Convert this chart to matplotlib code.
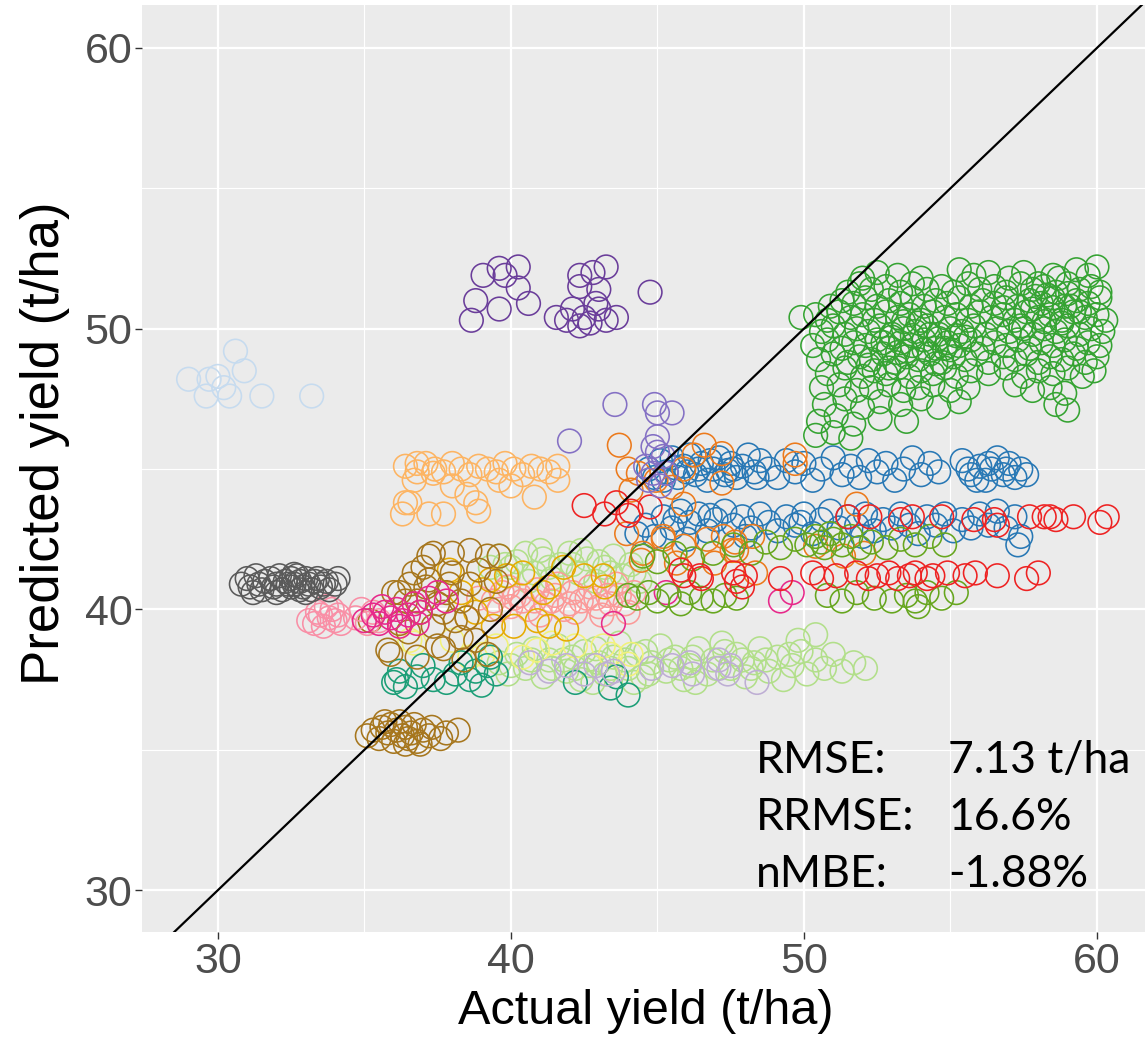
import matplotlib.pyplot as plt

# (actual, predicted) yield pairs per site group
lightblue_pts = [(29.0, 48.2), (29.7, 48.2), (30.6, 49.2), (30.9, 48.5), (30.4, 47.6), (29.6, 47.6),
                 (31.5, 47.6), (33.2, 47.6), (30.2, 47.9), (30.0, 48.3)]
gray_pts = [(30.8, 40.9), (31.0, 41.1), (31.1, 40.8), (31.3, 41.2), (31.4, 40.9), (31.5, 40.7), (31.6, 41.0),
            (31.8, 41.1), (31.9, 40.8), (32.0, 40.9), (32.1, 41.2), (32.2, 40.7), (32.3, 41.0), (32.4, 40.9),
            (32.5, 40.8), (32.5, 41.1), (32.6, 40.9), (32.7, 41.2), (32.8, 40.7), (32.8, 41.0), (32.9, 40.8),
            (33.0, 41.1), (33.1, 40.9), (33.2, 40.7), (33.3, 41.0), (33.4, 41.1), (33.5, 40.8), (33.6, 40.9),
            (33.7, 41.0), (33.8, 40.7), (34.0, 40.9), (34.1, 41.1), (31.2, 40.6), (32.0, 40.6), (32.6, 41.25),
            (33.0, 40.6)]
pink_pts = [(33.1, 39.6), (33.3, 39.5), (33.5, 39.8), (33.6, 39.4), (33.8, 39.7), (33.9, 40.0), (34.0, 39.6),
            (34.1, 39.8), (34.2, 39.5), (33.4, 39.9), (33.7, 40.1), (34.7, 39.7), (34.9, 40.0), (35.1, 39.5),
            (35.3, 39.9), (35.5, 39.6)]
magenta_pts = [(35.0, 39.6), (35.3, 39.8), (35.5, 39.5), (35.7, 39.9), (35.9, 39.7), (36.1, 40.0), (36.3, 39.6),
               (36.5, 39.8), (36.7, 40.2), (36.9, 39.9), (37.2, 40.4), (37.5, 40.6), (37.8, 40.3), (35.6, 40.1),
               (36.2, 39.4), (36.8, 39.5), (43.5, 39.5), (45.3, 40.6), (49.2, 40.3), (49.6, 40.6)]
brownlow_pts = [(35.1, 35.5), (35.3, 35.7), (35.5, 35.4), (35.6, 35.8), (35.8, 35.6), (35.9, 35.9), (36.0, 35.3),
                (36.1, 35.7), (36.2, 36.0), (36.3, 35.5), (36.4, 35.8), (36.5, 35.4), (36.6, 35.6), (36.7, 35.9),
                (36.8, 35.3), (37.0, 35.7), (37.2, 35.5), (37.3, 35.8), (37.6, 35.4), (37.8, 35.6), (38.2, 35.7),
                (36.9, 35.2), (36.4, 35.2), (35.7, 36.0)]
brown_pts = [(37.2, 41.9), (38.0, 42.0), (38.6, 42.1), (39.2, 41.9), (39.6, 41.9), (36.55, 40.9), (37.2, 41.05),
             (37.9, 40.9), (38.6, 40.9), (36.2, 40.6), (36.8, 40.3), (37.5, 40.2), (38.3, 40.3), (37.7, 39.9),
             (38.1, 39.6), (37.35, 39.4), (36.2, 39.5), (35.2, 39.6), (38.3, 39.0), (38.8, 38.9), (35.9, 38.4),
             (36.8, 38.3), (37.5, 38.7), (39.2, 38.4), (37.35, 42.0), (36.7, 41.3), (37.1, 40.8), (36.0, 40.6),
             (36.4, 40.3), (35.8, 38.55), (38.0, 41.3), (38.9, 41.4), (37.8, 40.6), (36.9, 39.9), (37.0, 41.5),
             (38.5, 39.7), (39.3, 40.0), (36.5, 39.2), (37.7, 38.6), (38.4, 38.2), (39.5, 41.0)]
lightorange_pts = [(36.4, 45.1), (36.8, 44.9), (37.1, 45.2), (37.4, 45.0), (37.7, 44.9), (38.0, 45.2), (38.3, 45.0),
                   (38.6, 44.8), (38.9, 45.1), (39.2, 45.0), (39.5, 44.9), (39.8, 45.2), (40.1, 45.0), (40.4, 44.8),
                   (40.7, 45.1), (41.0, 45.0), (41.3, 44.9), (41.6, 45.1), (36.7, 44.6), (36.55, 43.8), (37.7, 43.4),
                   (38.5, 44.1), (38.8, 43.8), (38.9, 43.5), (40.0, 44.4), (40.8, 44.0), (41.6, 44.6), (39.6, 44.6),
                   (38.0, 44.4), (36.8, 45.2), (37.35, 44.85), (36.4, 43.8), (36.3, 43.4), (37.2, 43.4)]
purple_pts = [(39.05, 51.9), (39.6, 52.15), (40.25, 52.2), (39.8, 51.9), (38.8, 51.0), (39.6, 50.7), (40.6, 50.9),
              (38.65, 50.3), (40.25, 51.45), (41.55, 50.4), (42.35, 51.9), (42.8, 52.0), (43.25, 52.2),
              (42.35, 51.5), (43.0, 51.4), (42.1, 50.7), (42.5, 50.4), (43.0, 50.7), (43.6, 50.4), (41.9, 50.3),
              (44.75, 51.3), (42.7, 50.2), (43.25, 50.3), (42.35, 50.1), (42.9, 50.9)]
lilac_pts = [(43.55, 47.3), (44.9, 47.3), (45.0, 47.0), (45.5, 47.0), (42.0, 46.0), (45.0, 46.15), (44.85, 45.8),
             (45.2, 45.45), (44.85, 44.85), (45.1, 44.4), (44.6, 45.1), (45.3, 44.85), (45.0, 45.6), (44.7, 44.6)]
orange_pts = [(43.7, 45.85), (46.6, 45.85), (47.2, 45.55), (49.7, 45.5), (49.7, 45.2), (44.35, 44.85), (45.9, 45.0),
              (45.5, 44.35), (47.2, 44.5), (44.1, 44.25), (45.9, 43.75), (45.2, 42.5), (46.7, 42.5), (47.65, 42.4),
              (48.25, 42.6), (44.45, 41.75), (45.65, 41.65), (46.95, 41.65), (48.35, 41.3), (51.8, 43.75),
              (50.4, 42.25), (51.35, 41.9), (52.05, 42.0), (44.0, 45.0), (46.25, 45.5), (44.95, 44.6), (47.55, 42.1),
              (43.95, 42.7), (44.5, 42.0), (45.2, 42.6), (45.9, 42.25), (47.25, 42.6), (47.7, 42.1)]
blue_pts = [(44.7, 45.0), (44.9, 44.7), (45.1, 45.3), (45.3, 44.9), (45.5, 45.4), (45.7, 44.7), (45.9, 45.1),
            (46.1, 45.5), (46.3, 44.8), (46.5, 45.2), (46.7, 44.6), (46.9, 45.0), (47.1, 45.4), (47.3, 44.8),
            (47.5, 45.2), (47.7, 44.7), (47.9, 45.1), (48.1, 45.5), (48.3, 44.9), (48.5, 45.3), (45.2, 44.6),
            (46.0, 44.9), (46.8, 45.3), (47.6, 45.0), (48.4, 44.7), (48.8, 45.0), (49.1, 44.7), (49.4, 45.3),
            (49.7, 44.9), (50.0, 45.2), (50.3, 44.6), (50.6, 45.0), (51.0, 45.4), (51.3, 44.8), (51.6, 45.1),
            (51.9, 44.7), (52.2, 45.3), (52.5, 44.9), (52.8, 45.2), (53.1, 44.6), (53.4, 45.0), (53.7, 45.4),
            (54.0, 44.8), (54.3, 45.2), (54.6, 44.9), (55.4, 45.3), (55.7, 44.8), (56.0, 45.1), (56.2, 44.6),
            (56.4, 45.0), (56.6, 45.4), (56.8, 44.8), (57.0, 45.2), (57.2, 44.7), (57.4, 45.0), (57.6, 44.8),
            (55.9, 44.6), (56.9, 45.0), (46.4, 45.0), (47.4, 44.95), (45.6, 45.05), (55.6, 45.0), (56.3, 45.2),
            (44.3, 42.7), (44.6, 43.0), (44.9, 42.6), (45.2, 43.3), (45.5, 42.9), (45.8, 43.5), (46.1, 43.1),
            (46.4, 43.4), (46.7, 42.8), (47.0, 43.2), (47.3, 43.5), (47.6, 43.0), (47.9, 43.3), (48.2, 42.9),
            (48.5, 43.4), (48.8, 43.1), (49.1, 42.8), (49.4, 43.3), (49.7, 43.0), (50.0, 43.4), (50.3, 42.7),
            (50.6, 43.2), (50.9, 43.5), (51.2, 42.9), (51.5, 43.3), (51.8, 43.0), (52.1, 43.4), (52.4, 42.8),
            (52.7, 43.2), (53.0, 42.9), (53.3, 43.4), (53.6, 43.0), (53.9, 42.7), (54.2, 43.3), (54.5, 43.0),
            (54.8, 43.4), (55.1, 42.8), (55.4, 43.2), (55.7, 42.9), (56.0, 43.4), (56.3, 43.0), (56.6, 43.5),
            (56.9, 42.9), (57.2, 43.3), (57.4, 42.6), (57.3, 42.3), (48.0, 42.6), (46.0, 42.5), (52.0, 42.6),
            (45.6, 43.2), (46.8, 43.35), (49.9, 43.1)]
red_pts = [(42.5, 43.7), (43.2, 43.4), (43.6, 43.8), (44.1, 43.5), (44.75, 43.65), (44.0, 43.35), (51.5, 43.3),
           (52.25, 43.3), (53.3, 43.2), (53.7, 43.3), (54.7, 43.3), (55.8, 43.2), (56.5, 43.2), (56.6, 43.0),
           (57.7, 43.3), (58.2, 43.3), (58.4, 43.3), (58.6, 43.2), (59.2, 43.3), (60.1, 43.1), (60.35, 43.3),
           (45.9, 41.2), (46.5, 41.1), (47.7, 41.0), (48.0, 41.2), (49.2, 41.1), (50.3, 41.3), (50.6, 41.1),
           (51.1, 41.2), (51.8, 41.3), (52.2, 41.1), (52.5, 41.2), (52.9, 41.3), (53.2, 41.1), (53.6, 41.2),
           (53.8, 41.3), (54.2, 41.1), (54.4, 41.2), (54.9, 41.3), (55.5, 41.2), (55.85, 41.3), (56.6, 41.2),
           (57.6, 41.1), (58.0, 41.3), (45.8, 41.4), (46.45, 41.2), (47.6, 41.3), (47.9, 40.8)]
green_pts = [(52.0, 51.8), (52.5, 52.0), (53.2, 51.9), (54.0, 51.8), (55.3, 52.1), (55.8, 51.9), (56.3, 52.0),
             (57.0, 51.8), (57.5, 52.0), (58.5, 51.9), (59.3, 52.1), (59.7, 51.9), (60.0, 52.2),
             (51.5, 51.3), (51.9, 51.6), (52.3, 51.4), (52.8, 51.5), (53.3, 51.3), (53.7, 51.6), (54.2, 51.4),
             (54.7, 51.5), (55.1, 51.3), (55.6, 51.6), (56.0, 51.4), (56.5, 51.5), (56.9, 51.3), (57.4, 51.6),
             (57.8, 51.4), (58.2, 51.5), (58.6, 51.3), (59.0, 51.6), (59.4, 51.4), (59.8, 51.5), (60.1, 51.3),
             (50.9, 50.8), (51.3, 51.0), (51.7, 50.9), (52.1, 51.1), (52.5, 50.8), (52.9, 51.0), (53.3, 50.9),
             (53.7, 51.1), (54.1, 50.8), (54.5, 51.0), (54.9, 50.9), (55.3, 51.1), (55.7, 50.8), (56.1, 51.0),
             (56.5, 50.9), (56.9, 51.1), (57.3, 50.8), (57.7, 51.0), (58.1, 50.9), (58.5, 51.1), (58.9, 50.8),
             (59.3, 51.0), (59.7, 50.9), (60.1, 51.1),
             (49.9, 50.4), (50.4, 50.5), (50.8, 50.3), (51.2, 50.6), (51.6, 50.4), (52.0, 50.5), (52.4, 50.3),
             (52.8, 50.6), (53.2, 50.4), (53.6, 50.5), (54.0, 50.3), (54.4, 50.6), (54.8, 50.4), (55.2, 50.5),
             (55.6, 50.3), (56.0, 50.6), (56.4, 50.4), (56.8, 50.5), (57.2, 50.3), (57.6, 50.6), (58.0, 50.4),
             (58.4, 50.5), (58.8, 50.3), (59.2, 50.6), (59.6, 50.4), (60.0, 50.5), (60.3, 50.3),
             (50.6, 49.9), (51.0, 50.1), (51.4, 49.8), (51.8, 50.0), (52.2, 49.9), (52.6, 50.1), (53.0, 49.8),
             (53.4, 50.0), (53.8, 49.9), (54.2, 50.1), (54.6, 49.8), (55.0, 50.0), (55.4, 49.9), (55.8, 50.1),
             (56.2, 49.8), (56.6, 50.0), (57.0, 49.9), (57.4, 50.1), (57.8, 49.8), (58.2, 50.0), (58.6, 49.9),
             (59.0, 50.1), (59.4, 49.8), (59.8, 50.0), (60.2, 49.9),
             (50.3, 49.4), (50.8, 49.6), (51.3, 49.3), (51.7, 49.5), (52.1, 49.4), (52.5, 49.6), (52.9, 49.3),
             (53.3, 49.5), (53.7, 49.4), (54.1, 49.6), (54.5, 49.3), (54.9, 49.5), (55.3, 49.4), (55.7, 49.6),
             (56.1, 49.3), (56.5, 49.5), (56.9, 49.4), (57.3, 49.6), (57.7, 49.3), (58.1, 49.5), (58.5, 49.4),
             (58.9, 49.6), (59.3, 49.3), (59.7, 49.5), (60.1, 49.4),
             (50.5, 48.9), (51.0, 49.1), (51.5, 48.8), (51.9, 49.0), (52.3, 48.9), (52.7, 49.1), (53.1, 48.8),
             (53.5, 49.0), (53.9, 48.9), (54.3, 49.1), (54.7, 48.8), (55.1, 49.0), (55.5, 48.9), (55.9, 49.1),
             (56.3, 48.8), (56.8, 49.0), (57.2, 48.9), (57.6, 49.1), (58.0, 48.8), (58.4, 49.0), (58.8, 48.9),
             (59.2, 49.1), (59.6, 48.8), (60.0, 49.0),
             (50.8, 48.4), (51.4, 48.6), (52.0, 48.3), (52.4, 48.5), (52.8, 48.4), (53.2, 48.6), (53.6, 48.3),
             (54.0, 48.5), (54.4, 48.4), (54.8, 48.6), (55.2, 48.3), (55.7, 48.5), (56.3, 48.4), (56.9, 48.6),
             (57.5, 48.3), (58.0, 48.5), (58.5, 48.4), (59.0, 48.6), (59.5, 48.3), (59.9, 48.5),
             (50.6, 47.9), (51.2, 48.0), (51.8, 47.8), (52.3, 47.9), (52.9, 48.0), (53.4, 47.8), (53.9, 47.9),
             (54.4, 48.0), (55.0, 47.8), (55.6, 47.9), (57.2, 48.0), (57.8, 47.8), (58.4, 47.9), (58.9, 47.7),
             (50.7, 47.3), (51.4, 47.5), (52.0, 47.2), (52.6, 47.4), (53.3, 47.3), (54.0, 47.5), (54.6, 47.2),
             (55.3, 47.4), (58.6, 47.3), (59.0, 47.1), (50.5, 46.7), (51.1, 46.9), (51.7, 46.6), (52.6, 46.8),
             (53.5, 46.7), (50.4, 46.2), (51.0, 46.3), (51.6, 46.1),
             (53.0, 49.7), (53.5, 49.2), (54.3, 49.8), (54.8, 49.3), (52.7, 49.5), (53.9, 50.2), (57.8, 50.7),
             (58.3, 51.2), (58.8, 50.2), (57.5, 50.0), (59.1, 50.8), (58.0, 51.6), (55.5, 49.7), (52.2, 48.7),
             (53.2, 49.15), (53.7, 49.75), (54.1, 49.25), (54.6, 49.65), (53.4, 50.25), (54.5, 48.75),
             (55.0, 49.25), (52.9, 48.6), (58.5, 50.75), (59.0, 51.25), (57.9, 51.15), (58.7, 51.8), (59.4, 50.6),
             (58.2, 50.25), (56.8, 50.75), (55.2, 49.75)]
olive_pts = [(48.7, 42.4), (49.2, 42.2), (49.7, 42.5), (50.1, 42.3), (50.4, 42.6), (50.7, 42.2), (51.0, 42.5),
             (51.3, 42.3), (51.6, 42.6), (51.9, 42.2), (50.6, 42.4), (50.9, 42.7), (52.3, 42.4), (52.8, 42.2),
             (53.3, 42.5), (53.8, 42.3), (54.3, 42.6), (54.8, 42.3), (48.2, 42.0), (47.6, 42.3), (46.9, 42.0),
             (44.5, 41.9), (45.0, 41.7), (45.6, 42.0), (46.2, 41.8),
             (44.3, 40.4), (44.7, 40.6), (45.0, 40.3), (45.4, 40.5), (45.8, 40.2), (46.1, 40.6), (46.5, 40.4),
             (46.9, 40.3), (47.3, 40.5), (47.7, 40.4), (50.8, 40.5), (51.3, 40.3), (51.8, 40.6), (52.4, 40.4),
             (53.0, 40.3), (53.5, 40.5), (53.8, 40.3), (54.2, 40.6), (54.7, 40.4), (55.2, 40.6), (53.9, 40.1),
             (44.0, 40.5)]
lightgreen_pts = [(39.6, 38.1), (39.9, 37.7), (40.2, 38.4), (40.5, 37.9), (40.8, 38.6), (41.1, 37.6), (41.3, 38.2),
                  (41.6, 38.7), (41.9, 37.8), (42.1, 38.3), (42.4, 37.5), (42.7, 38.0), (42.9, 38.6), (43.2, 37.7),
                  (43.5, 38.3), (43.7, 38.8), (44.0, 37.9), (44.3, 38.4), (44.5, 37.6), (44.8, 38.1), (45.1, 38.7),
                  (45.3, 37.8), (45.6, 38.3), (45.9, 37.5), (46.1, 38.0), (46.4, 38.6), (46.7, 37.7), (46.9, 38.2),
                  (47.2, 38.8), (47.5, 37.9), (47.7, 38.4), (48.0, 37.6), (48.3, 38.1), (48.5, 38.6), (48.8, 37.8),
                  (49.1, 38.3), (49.3, 37.5), (49.6, 38.0), (49.9, 38.5), (50.1, 37.7), (50.4, 38.2), (50.7, 37.9),
                  (51.0, 38.4), (51.3, 37.8), (51.7, 38.1), (52.1, 37.9), (50.4, 39.1), (49.8, 38.9), (44.2, 37.4),
                  (42.8, 37.4), (46.3, 37.4),
                  (40.0, 38.0), (40.7, 38.2), (41.4, 37.9), (42.2, 37.9), (43.0, 38.1), (43.9, 38.2), (44.7, 37.7),
                  (45.4, 38.2), (46.2, 38.3), (47.0, 37.9), (47.9, 38.2), (48.7, 38.2), (49.5, 38.4), (45.8, 37.9),
                  (44.6, 38.5), (43.4, 37.9), (42.5, 38.5), (41.8, 38.2), (48.2, 37.9), (47.3, 38.5),
                  (39.3, 41.5), (39.6, 41.9), (39.9, 41.2), (40.2, 41.7), (40.5, 42.0), (40.8, 41.3), (41.1, 41.8),
                  (41.4, 41.1), (41.7, 41.6), (42.0, 42.0), (42.3, 41.3), (42.6, 41.8), (42.9, 41.0), (43.2, 41.5),
                  (43.5, 41.9), (43.8, 41.2), (44.1, 41.6), (44.4, 41.0), (41.0, 42.1), (42.4, 42.1), (43.0, 41.7),
                  (40.6, 41.0), (40.0, 41.5), (41.3, 41.5), (42.1, 41.6), (43.4, 41.3), (39.8, 41.6), (44.2, 41.3)]
salmon_pts = [(39.4, 40.3), (39.7, 40.6), (40.0, 40.1), (40.3, 40.5), (40.6, 40.0), (40.9, 40.7), (41.2, 40.2),
              (41.5, 40.5), (41.8, 40.0), (42.1, 40.6), (42.4, 40.3), (42.7, 40.8), (43.0, 40.1), (43.3, 40.5),
              (43.6, 40.9), (43.9, 40.2), (44.2, 40.6), (39.9, 40.8), (41.0, 39.8), (42.2, 39.9), (43.1, 39.8),
              (40.4, 40.3), (41.6, 40.9), (42.9, 40.4), (44.0, 39.9), (38.9, 40.4), (40.1, 40.4), (40.8, 40.3),
              (41.4, 40.3), (42.0, 40.2), (42.6, 40.4), (43.4, 40.2), (43.7, 40.5), (39.6, 40.0)]
gold_pts = [(39.3, 41.05), (39.85, 41.2), (40.4, 41.3), (41.3, 40.8), (41.8, 41.5), (42.5, 41.2), (43.15, 41.2),
            (38.8, 39.9), (39.4, 39.4), (40.1, 39.4), (40.9, 39.6), (41.3, 39.4), (41.9, 39.3), (38.3, 40.6),
            (39.05, 40.7), (38.5, 39.7), (37.9, 41.4), (41.1, 40.6), (43.2, 40.8)]
yellow_pts = [(36.7, 38.8), (39.05, 38.4), (39.5, 38.7), (40.4, 38.3), (41.4, 38.8), (42.2, 38.7), (43.15, 38.7),
              (44.1, 38.4), (40.9, 38.55), (36.55, 38.9), (43.4, 38.4), (44.0, 38.05), (38.0, 38.9), (38.6, 38.3)]
teal_pts = [(36.1, 37.5), (36.8, 37.6), (36.2, 37.8), (37.35, 37.5), (38.1, 37.7), (38.8, 37.8), (39.2, 38.0),
            (39.5, 37.7), (38.6, 37.5), (42.2, 37.4), (43.6, 37.6), (37.8, 37.4), (36.4, 37.25), (39.3, 38.3),
            (36.0, 37.4), (37.0, 38.0), (38.3, 38.1), (39.0, 37.3), (43.4, 37.2), (44.0, 36.95)]
lavender_pts = [(40.65, 38.1), (41.3, 37.8), (41.9, 38.0), (42.5, 37.7), (42.9, 38.0), (43.5, 37.8), (46.1, 38.1),
                (47.1, 38.2), (47.5, 38.0), (46.2, 37.7), (47.1, 37.9), (47.4, 37.7), (48.4, 37.4), (43.3, 37.7),
                (44.8, 37.9), (45.5, 38.0)]

groups = [
    (lightgreen_pts, '#B2DF8A'),
    (salmon_pts, '#FB9A99'),
    (yellow_pts, '#F2F27A'),
    (gold_pts, '#E6AB02'),
    (teal_pts, '#1B9E77'),
    (lavender_pts, '#BEAED4'),
    (brownlow_pts, '#A6761D'),
    (brown_pts, '#A6761D'),
    (pink_pts, '#F98FA6'),
    (magenta_pts, '#E7298A'),
    (gray_pts, '#5A5A5A'),
    (lightblue_pts, '#C6DBEF'),
    (lightorange_pts, '#FDB462'),
    (blue_pts, '#2878B5'),
    (orange_pts, '#EC7A1C'),
    (olive_pts, '#66A61E'),
    (red_pts, '#EE2222'),
    (green_pts, '#35A332'),
    (lilac_pts, '#8470C4'),
    (purple_pts, '#6A3D9A'),
]

W, H = 1145, 1039
fig = plt.figure(figsize=(W / 100, H / 100), dpi=100)
ax = fig.add_axes([142 / W, (H - 932) / H, (W - 142) / W, (932 - 5) / H])
ax.set_facecolor('#EBEBEB')

for pts, col in groups:
    xs = [p[0] for p in pts]
    ys = [p[1] for p in pts]
    ax.scatter(xs, ys, s=290, facecolors='none', edgecolors=col, linewidths=1.15, zorder=3)

ax.axline((30, 30), (60, 60), color='black', lw=1.6, zorder=4)

ax.set_xlim(27.41, 61.64)
ax.set_ylim(28.51, 61.53)
ax.set_xticks([30, 40, 50, 60])
ax.set_yticks([30, 40, 50, 60])
ax.set_xticks([35, 45, 55], minor=True)
ax.set_yticks([35, 45, 55], minor=True)
ax.grid(which='major', color='white', lw=1.6, zorder=0)
ax.grid(which='minor', color='white', lw=0.8, zorder=0)
ax.set_axisbelow(True)
for s in ax.spines.values():
    s.set_visible(False)
ax.tick_params(which='major', length=5, width=1, color='#333333', labelsize=31,
               labelcolor='#4D4D4D', pad=2)
ax.tick_params(which='minor', length=0)
for lab in ax.get_xticklabels() + ax.get_yticklabels():
    lab.set_fontfamily('Liberation Sans')

fig.text(646 / W, 1 - 1011 / H, 'Actual yield (t/ha)', ha='center', va='center',
         fontsize=35, family='Liberation Sans')
fig.text(45 / W, 1 - 443 / H, 'Predicted yield (t/ha)', ha='center', va='center',
         rotation=90, fontsize=38, family='Liberation Sans')

labels = ['RMSE:', 'RRMSE:', 'nMBE:']
values = ['7.13 t/ha', '16.6%', '-1.88%']
for i in range(3):
    yb = 1 - (773 + 57 * i) / H
    fig.text(756 / W, yb, labels[i], ha='left', va='baseline', fontsize=32, family='Lato')
    fig.text(948 / W, yb, values[i], ha='left', va='baseline', fontsize=32, family='Lato')

fig.savefig('out.png', dpi=100)
